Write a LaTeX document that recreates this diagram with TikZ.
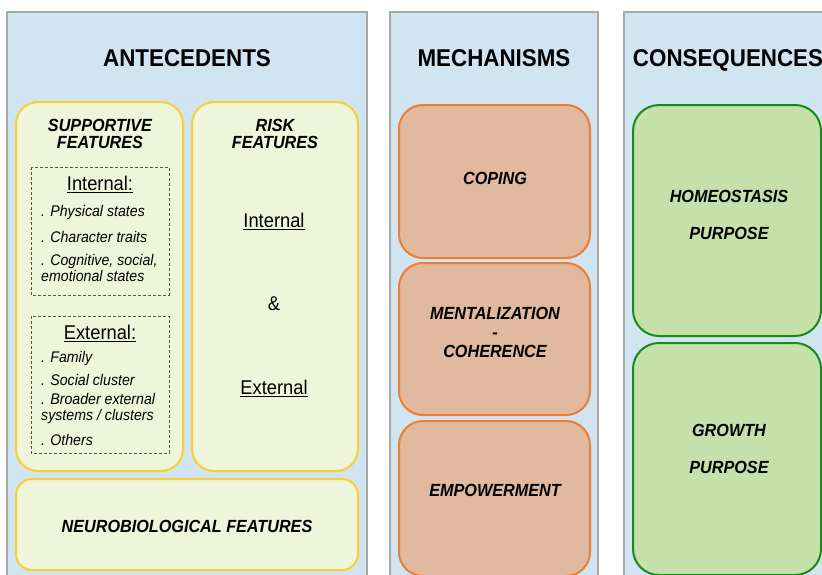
\documentclass[tikz,border=0pt]{standalone}
\usepackage{fontspec}
\setmainfont[FakeStretch=0.92]{Liberation Sans}
\begin{document}
\definecolor{panelfill}{RGB}{208,228,242}
\definecolor{panelline}{RGB}{168,168,168}
\definecolor{antefill}{RGB}{238,245,218}
\definecolor{anteline}{RGB}{248,208,48}
\definecolor{mechfill}{RGB}{224,185,158}
\definecolor{mechline}{RGB}{237,125,49}
\definecolor{consfill}{RGB}{198,224,172}
\definecolor{consline}{RGB}{22,140,22}
\definecolor{dashline}{RGB}{85,85,85}
\begin{tikzpicture}[x=1pt,y=-1pt,
  panel/.style={draw=panelline,fill=panelfill,line width=1.5pt},
  antebox/.style={draw=anteline,fill=antefill,line width=2pt,rounded corners=22pt},
  mechbox/.style={draw=mechline,fill=mechfill,line width=2pt,rounded corners=24pt},
  consbox/.style={draw=consline,fill=consfill,line width=2pt,rounded corners=26pt},
  subbox/.style={draw=dashline,densely dashed,line width=0.8pt},
  title/.style={font=\fontsize{24.3}{28}\selectfont\bfseries,anchor=base},
  heading/.style={font=\fontsize{17.6}{18}\selectfont\bfseries\itshape,align=center},
  label/.style={font=\fontsize{19.9}{20}\selectfont},
  item/.style={font=\fontsize{15.4}{16}\selectfont\itshape,anchor=west,align=left,inner sep=0pt}]
\useasboundingbox (0,0) rectangle (822,574);
\fill[white] (0,0) rectangle (822,574);

% column panels
\path[panel] (7,12) rectangle (367,590);
\path[panel] (390,12) rectangle (598,590);
\path[panel] (624,12) rectangle (840,590);
\node[title] (tAnte) at (187,66.5) {ANTECEDENTS};
\node[title] (tMech) at (494,66.5) {MECHANISMS};
\node[title] (tCons) at (728,66.5) {CONSEQUENCES};

% antecedents
\path[antebox] (16,102) rectangle (183,471);
\path[antebox] (192,102) rectangle (358,471);
\path[antebox,rounded corners=16pt] (16,479) rectangle (358,570);
\node[heading] (supp) at (100,134) {SUPPORTIVE\\[-1pt]FEATURES};
\node[heading] (risk) at (275,134) {RISK\\[-1pt]FEATURES};

\path[subbox] (31,167) rectangle (169,295);
\path[subbox] (31,316) rectangle (169,453);
\node[label] (intS) at (100,184) {\underline{Internal:}};
\node[item] (i1) at (41,213) {. Physical states};
\node[item] (i2) at (41,237) {. Character traits};
\node[item] (i3) at (41,268) {. Cognitive, social,\\emotional states};
\node[label] (extS) at (100,333) {\underline{External:}};
\node[item] (e1) at (41,359) {. Family};
\node[item] (e2) at (41,380) {. Social cluster};
\node[item] (e3) at (41,409) {. Broader external\\systems / clusters};
\node[item] (e4) at (41,440) {. Others};

\node[label] (intR) at (274,221) {\underline{Internal}};
\node[label] (amp) at (274,304) {\&};
\node[label] (extR) at (274,388) {\underline{External}};

\node[heading] (neuro) at (187,526) {NEUROBIOLOGICAL FEATURES};

% mechanisms
\path[mechbox] (399,105) rectangle (590,258);
\path[mechbox] (399,263) rectangle (590,415);
\path[mechbox] (399,421) rectangle (590,576);
\node[heading] (coping) at (495,178) {COPING};
\node[heading] (ment) at (495,332) {MENTALIZATION\\[1pt]-\\[1pt]COHERENCE};
\node[heading] (emp) at (495,490) {EMPOWERMENT};

% consequences
\path[consbox] (633,105) rectangle (821,336);
\path[consbox] (633,343) rectangle (821,575);
\node[heading] (homeo) at (729,215) {HOMEOSTASIS\\[19pt]PURPOSE};
\node[heading] (growth) at (729,449) {GROWTH\\[19pt]PURPOSE};
\end{tikzpicture}
\end{document}
